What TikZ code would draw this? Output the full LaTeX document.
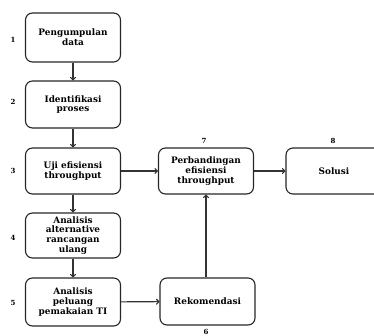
\documentclass[tikz,border=0pt]{standalone}
\usepackage{fontspec}
\setmainfont{DejaVu Serif}
\usetikzlibrary{arrows.meta}
\begin{document}
\begin{tikzpicture}[x=1pt,y=-1pt,
  box/.style={draw=black!85,line width=1.1pt,rounded corners=7pt,minimum width=95pt,align=center,font=\bfseries\fontsize{8.9}{9.8}\selectfont,inner sep=1pt},
  num/.style={font=\bfseries\fontsize{7}{8}\selectfont,inner sep=0pt},
  arr/.style={draw=black!80,line width=1.1pt,-{To[length=3.5pt,width=6pt]}}]
\useasboundingbox (0,0) rectangle (374,336);
\clip (0,0) rectangle (374,336);
\node[box,minimum height=49pt] (b1) at (73,37.5) {Pengumpulan\\data};
\node[box,minimum height=47pt] (b2) at (73,104.5) {Identifikasi\\proses};
\node[box,minimum height=46pt] (b3) at (73,171) {Uji efisiensi\\throughput};
\node[box,minimum height=45pt] (b4) at (73,235.5) {Analisis\\alternative\\rancangan\\ulang};
\node[box,minimum height=48pt] (b5) at (73,302) {Analisis\\peluang\\pemakaian TI};
\node[box,minimum height=46pt] (b7) at (206,171) {Perbandingan\\efisiensi\\throughput};
\node[box,minimum height=46pt,minimum width=96pt] (b8) at (334,171) {Solusi};
\node[box,minimum height=47pt] (b6) at (207.5,301.5) {Rekomendasi};
\node[num] (n1) at (13,40) {1};
\node[num] (n2) at (13,102) {2};
\node[num] (n3) at (13,171) {3};
\node[num] (n4) at (13,238) {4};
\node[num] (n5) at (13,303) {5};
\node[num] (n7) at (204,141) {7};
\node[num] (n8) at (333,141) {8};
\node[num] (n6) at (206,331.5) {6};
\draw[arr] (b1) -- (b2);
\draw[arr] (b2) -- (b3);
\draw[arr] (b3) -- (b4);
\draw[arr] (b4) -- (b5);
\draw[arr] (b3) -- (b7);
\draw[arr] (b7) -- (b8);
\draw[arr] (b5) -- (b6);
\draw[arr] (b6.north -| b7.south) -- (b7.south);
\end{tikzpicture}
\end{document}
